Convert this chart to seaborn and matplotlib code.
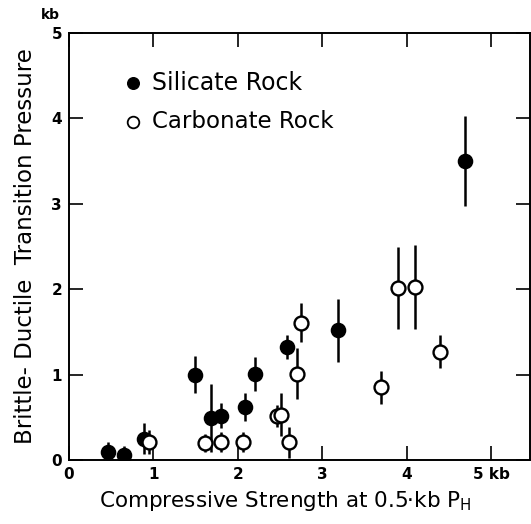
import matplotlib
matplotlib.use("Agg")
import matplotlib.pyplot as plt
import numpy as np
import pandas as pd
import seaborn as sns

# Silicate rocks (filled symbols)
sil_strength = [0.46, 0.65, 0.89, 1.49, 1.68, 1.80, 2.09, 2.20, 2.58, 3.19, 4.69]
sil_pressure = [0.09, 0.06, 0.25, 1.00, 0.49, 0.52, 0.62, 1.01, 1.32, 1.52, 3.50]
sil_err      = [0.12, 0.10, 0.18, 0.22, 0.40, 0.15, 0.16, 0.20, 0.14, 0.37, 0.53]

# Carbonate rocks (open symbols)
carb_strength = [0.95, 1.61, 1.80, 2.06, 2.46, 2.51, 2.60, 2.70, 2.75, 3.69, 3.90, 4.10, 4.39]
carb_pressure = [0.21, 0.20, 0.21, 0.21, 0.52, 0.53, 0.21, 1.01, 1.61, 0.85, 2.01, 2.03, 1.27]
carb_err      = [0.14, 0.11, 0.12, 0.12, 0.13, 0.25, 0.18, 0.30, 0.23, 0.19, 0.48, 0.49, 0.19]

x_ticks = [0, 1, 2, 3, 4, 5]
x_tick_labels = ["0", "1", "2", "3", "4", "5 kb"]
y_ticks = [0, 1, 2, 3, 4, 5]
y_tick_labels = ["0", "1", "2", "3", "4", "5"]

sns.set_theme(style="ticks", rc={"text.color": "black", "axes.labelcolor": "black",
                                 "xtick.color": "black", "ytick.color": "black",
                                 "axes.edgecolor": "black"})
plt.rcParams["font.family"] = ["DejaVu Sans"]

df = pd.DataFrame({
    "strength": sil_strength + carb_strength,
    "pressure": sil_pressure + carb_pressure,
    "rock": ["Silicate Rock"] * len(sil_strength) + ["Carbonate Rock"] * len(carb_strength),
})

fig = plt.figure(figsize=(5.31, 5.24), dpi=100)
ax = fig.add_axes([0.130, 0.122, 0.868, 0.815])

# error bars
ax.errorbar(sil_strength, sil_pressure, yerr=sil_err, fmt="none",
            ecolor="black", elinewidth=1.8, capsize=0, zorder=2)
ax.errorbar(carb_strength, carb_pressure, yerr=carb_err, fmt="none",
            ecolor="black", elinewidth=1.8, capsize=0, zorder=2)

sns.scatterplot(data=df[df.rock == "Silicate Rock"], x="strength", y="pressure",
                color="black", edgecolor="black", s=100, linewidth=1.2,
                ax=ax, zorder=3, legend=False)
sns.scatterplot(data=df[df.rock == "Carbonate Rock"], x="strength", y="pressure",
                color="white", edgecolor="black", s=100, linewidth=1.7,
                ax=ax, zorder=3, legend=False)

ax.set_xlim(0, 5.46)
ax.set_ylim(0, 5)

ax.set_xticks(x_ticks)
ax.set_xticklabels(x_tick_labels, fontsize=11, fontweight="bold")
ax.set_yticks(y_ticks)
ax.set_yticklabels(y_tick_labels, fontsize=11, fontweight="bold")
ax.tick_params(direction="in", length=10, width=1.2, top=True, right=True,
               labeltop=False, labelright=False, pad=5, colors="black")

for sp in ax.spines.values():
    sp.set_linewidth(1.4)
    sp.set_color("black")

ax.set_xlabel("Compressive Strength at 0.5·kb P$_{\\mathregular{H}}$", fontsize=15.5,
              color="black")
ax.xaxis.set_label_coords(0.469, -0.097)
ax.xaxis.label.set_va("center")
ax.set_ylabel("Brittle- Ductile  Transition Pressure", fontsize=16.5, labelpad=10,
              color="black")

# "kb" unit above the y axis
ax.text(-0.041, 1.042, "kb", transform=ax.transAxes, ha="center", va="center",
        fontsize=10, fontweight="bold", color="black")

# legend drawn as symbols with text
ax.scatter([0.76], [4.42], s=70, color="black", edgecolor="black", zorder=3)
ax.text(0.98, 4.42, "Silicate Rock", fontsize=17, va="center", ha="left", color="black")
ax.scatter([0.76], [3.96], s=70, color="white", edgecolor="black", linewidth=1.3, zorder=3)
ax.text(0.98, 3.96, "Carbonate Rock", fontsize=16.5, va="center", ha="left", color="black")

fig.savefig("out.png", dpi=100)
